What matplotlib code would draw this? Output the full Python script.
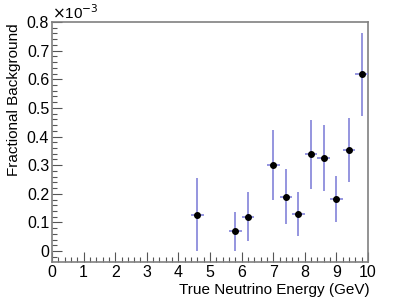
import numpy as np
import matplotlib
matplotlib.use("Agg")
import matplotlib.pyplot as plt
from matplotlib.ticker import MultipleLocator, FuncFormatter

# energy bins (GeV) and fractional background (units of 1e-3)
energy = [4.6, 5.8, 6.2, 7.0, 7.4, 7.8, 8.2, 8.6, 9.0, 9.4, 9.8]
frac_bkg = [0.127, 0.069, 0.120, 0.300, 0.190, 0.130, 0.338, 0.325, 0.182, 0.354, 0.617]
frac_err = [0.127, 0.068, 0.086, 0.123, 0.095, 0.077, 0.120, 0.116, 0.082, 0.112, 0.145]
half_bin = 0.2

plt.rcParams['font.family'] = ['Liberation Sans', 'DejaVu Sans']

fig = plt.figure(figsize=(4.09, 3.0), dpi=100)
ax = fig.add_axes([52/409, 1 - 262/300, 316/409, 240/300])

ax.errorbar(energy, frac_bkg, yerr=frac_err, xerr=half_bin, fmt='o',
            color='black', markersize=4, ecolor='#8c8cdc', elinewidth=1.3,
            capsize=0, zorder=3)

ax.set_xlim(0, 10)
ax.set_ylim(-0.038, 0.8)
ax.xaxis.set_major_locator(MultipleLocator(1))
ax.xaxis.set_minor_locator(MultipleLocator(0.2))
ax.yaxis.set_major_locator(MultipleLocator(0.1))
ax.yaxis.set_minor_locator(MultipleLocator(0.02))
ax.yaxis.set_major_formatter(FuncFormatter(
    lambda v, p: '0' if abs(v) < 1e-9 else '%.1f' % v))

ax.tick_params(which='both', direction='in', top=False, right=False,
               labelsize=11.5, colors='black', pad=2)
ax.tick_params(which='major', length=7, width=0.8, color='#555555')
ax.tick_params(which='minor', length=3.5, width=0.8, color='#555555')

for s in ax.spines.values():
    s.set_color('#808080')
    s.set_linewidth(1.2)

# ROOT-style axis titles aligned to the axis ends
fig.text(370/409, 1 - 290/300, 'True Neutrino Energy (GeV)', fontsize=11,
         ha='right', va='center')
fig.text(14/409, 1 - 99.5/300, 'Fractional Background', fontsize=11,
         rotation=90, ha='center', va='center')

ax.text(0.0, 1.0, r'$\times$10$^{-3}$', transform=ax.transAxes,
        fontsize=11, ha='left', va='bottom')

fig.savefig('out.png', dpi=100)
